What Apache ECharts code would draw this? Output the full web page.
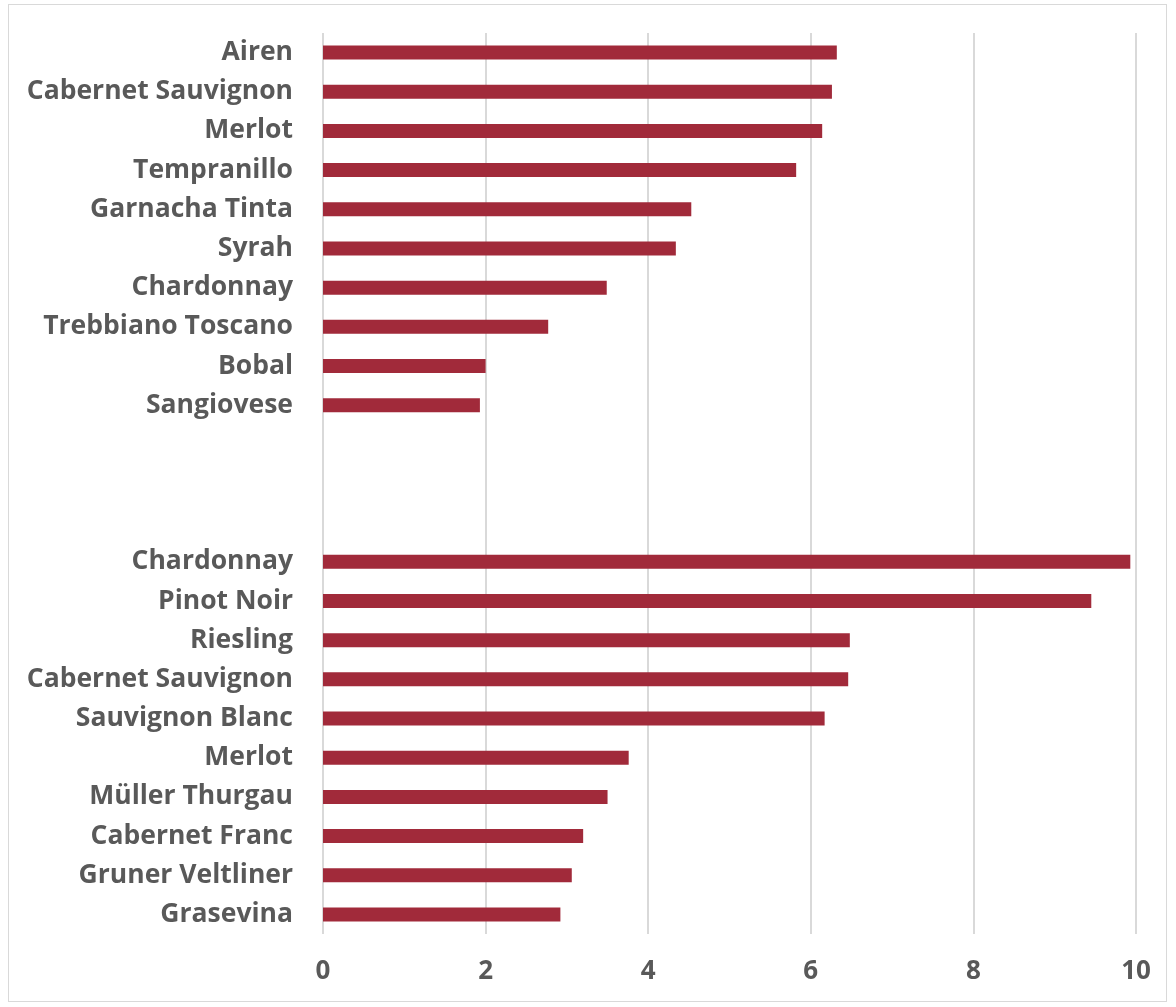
<!DOCTYPE html>
<html>
<head>
<meta charset="utf-8">
<script src="https://cdn.jsdelivr.net/npm/echarts@6/dist/echarts.min.js"></script>
<style>
html,body{margin:0;padding:0;background:#fff;}
#frame{position:absolute;left:8px;top:4px;width:1159px;height:998px;border:1px solid #d9d9d9;box-sizing:border-box;}
#chart{position:absolute;left:0;top:0;width:1176px;height:1007px;}
</style>
</head>
<body>
<div id="frame"></div>
<div id="chart"></div>
<script>
// Group 1 (top), listed top to bottom
const topCategories = ['Airen','Cabernet Sauvignon','Merlot','Tempranillo','Garnacha Tinta','Syrah','Chardonnay','Trebbiano Toscano','Bobal','Sangiovese'];
const topValues = [6.32, 6.26, 6.14, 5.82, 4.53, 4.34, 3.49, 2.77, 2.00, 1.93];
// Gap rows between the groups
const gapCategories = ['', ' ', '  '];
// Group 2 (bottom), listed top to bottom
const bottomCategories = ['Chardonnay','Pinot Noir','Riesling','Cabernet Sauvignon','Sauvignon Blanc','Merlot','Mu\u0308ller Thurgau','Cabernet Franc','Gruner Veltliner','Grasevina'];
const bottomValues = [9.93, 9.45, 6.48, 6.46, 6.17, 3.76, 3.50, 3.20, 3.06, 2.92];
const xTicks = [0, 2, 4, 6, 8, 10];

const categories = topCategories.concat(gapCategories, bottomCategories);
const values = topValues.concat(gapCategories.map(() => null), bottomValues);

const chart = echarts.init(document.getElementById('chart'), null, {renderer: 'canvas'});
const labelFont = {fontFamily: 'Open Sans', fontWeight: 'bold', fontSize: 26.5, color: '#595959'};
chart.setOption({
  animation: false,
  grid: {left: 323, right: 40, top: 33, bottom: 73, containLabel: false},
  xAxis: {
    type: 'value',
    min: xTicks[0],
    max: xTicks[xTicks.length - 1],
    interval: 2,
    axisLine: {show: false},
    axisTick: {show: false},
    splitLine: {show: true, lineStyle: {color: '#d9d9d9', width: 2}},
    axisLabel: Object.assign({margin: 25}, labelFont, {fontSize: 26})
  },
  yAxis: {
    type: 'category',
    inverse: true,
    data: categories,
    axisLine: {show: false},
    axisTick: {show: false},
    splitLine: {show: false},
    axisLabel: Object.assign({margin: 30, interval: 0, padding: [7, 0, 0, 0]}, labelFont)
  },
  series: [{
    type: 'bar',
    data: values,
    barWidth: 14,
    itemStyle: {color: '#A12A3A'}
  }]
});
</script>
</body>
</html>
